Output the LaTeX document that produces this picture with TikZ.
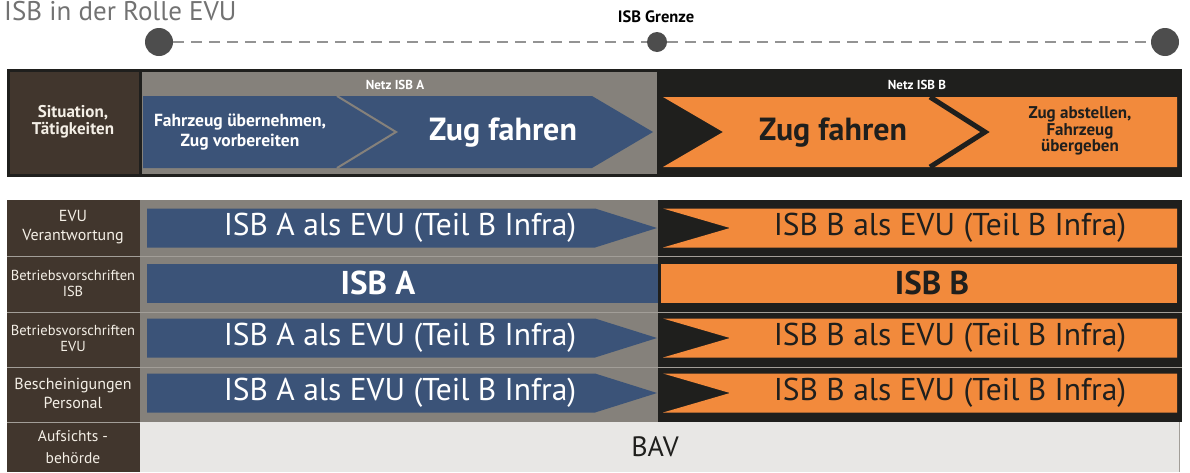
\documentclass[tikz,border=0pt]{standalone}
\usepackage{fontspec}
\setmainfont{PT Sans}
\definecolor{labelbrown}{HTML}{41362D}
\definecolor{netzgray}{HTML}{85817B}
\definecolor{isbblue}{HTML}{3B5378}
\definecolor{isborange}{HTML}{F28A3C}
\definecolor{boxblack}{HTML}{1F1F1D}
\definecolor{bavgray}{HTML}{E8E7E5}
\definecolor{dotgray}{HTML}{4D4D4D}
\definecolor{dashgray}{HTML}{939393}
\definecolor{titlegray}{HTML}{727272}
\definecolor{labeltext}{HTML}{F4EFE6}
\definecolor{sepgray}{HTML}{A29E98}
\begin{document}
\begin{tikzpicture}[x=1pt,y=1pt]
\tikzstyle{every node}+=[inner sep=0pt, align=center]
\tikzstyle{dashline}=[dashgray, line width=2.5pt, dash pattern=on 11pt off 7pt]
\tikzstyle{enddot}=[circle, fill=dotgray, minimum size=28pt]
\tikzstyle{rowlabel}=[text=labeltext, font=\fontsize{16}{19}\selectfont]
\tikzstyle{smalllabel}=[text=labeltext, font=\fontsize{14.5}{16}\selectfont]
\tikzstyle{bigtext}=[font=\fontsize{31.5}{32}\selectfont]
\useasboundingbox (0,0) rectangle (1190,-472);
\node (title) [anchor=base west, text=titlegray, font=\fontsize{27}{27}\selectfont] at (4,-20) {ISB in der Rolle EVU};
\node (startdot) [enddot] at (159,-42) {};
\node (grenzdot) [circle, fill=dotgray, minimum size=20pt] at (657,-42) {};
\node (stopdot) [enddot] at (1165,-42) {};
\draw [dashline] (startdot) -- (grenzdot);
\draw [dashline] (grenzdot) -- (stopdot);
\node (grenze) [font=\bfseries\fontsize{16.5}{17}\selectfont] at (656,-17) {ISB Grenze};
\fill [boxblack] (7,-69) rectangle (1182,-177);
\fill [labelbrown] (10,-72) rectangle (139,-174);
\fill [netzgray] (142,-72) rectangle (657,-174);
\fill [isbblue] (143,-96) -- (592,-96) -- (653,-132) -- (592,-168) -- (143,-168) -- cycle;
\draw [netzgray, line width=2pt] (337,-96) -- (396,-132) -- (337,-168);
\fill [isborange] (663,-97) -- (1177,-97) -- (1177,-167) -- (663,-167) -- (723,-132) -- cycle;
\draw [boxblack, line width=5pt] (930,-97) -- (985,-132) -- (930,-167);
\node (situation) [text=labeltext, font=\bfseries\fontsize{17}{17}\selectfont] at (73,-122) {Situation,\\Tätigkeiten};
\node (netzA) [text=white, font=\bfseries\fontsize{13}{13}\selectfont] at (395,-85) {Netz ISB A};
\node (netzB) [text=white, font=\bfseries\fontsize{13}{13}\selectfont] at (917,-85) {Netz ISB B};
\node (uebernehmen) [text=white, font=\bfseries\fontsize{17.5}{20}\selectfont] at (240,-132) {Fahrzeug übernehmen,\\Zug vorbereiten};
\node (fahrenA) [text=white, font=\bfseries\fontsize{32}{32}\selectfont] at (503,-133) {Zug fahren};
\node (fahrenB) [text=boxblack, font=\bfseries\fontsize{32}{32}\selectfont] at (833,-133) {Zug fahren};
\node (abstellen) [text=boxblack, font=\bfseries\fontsize{17}{16.5}\selectfont] at (1080,-131) {Zug abstellen,\\Fahrzeug\\übergeben};
\fill [labelbrown] (7,-200) rectangle (140,-472);
\fill [netzgray] (140,-200) rectangle (658,-422);
\fill [boxblack] (658,-200) rectangle (1182,-422);
\foreach \y in {256,312,367,422}
  \draw [sepgray, line width=1pt] (7,-\y) -- (140,-\y);
\foreach \y in {256,312,367}
  \draw [sepgray, line width=1pt] (140,-\y) -- (1182,-\y);
\foreach \c/\n in {228/1,338/3,393/4}
{
  \begin{scope}[yshift=-\c pt]
  \fill [isbblue] (147,19.5) -- (595,19.5) -- (657,0) -- (595,-19.5) -- (147,-19.5) -- cycle;
  \fill [isborange] (663,19.5) -- (1177,19.5) -- (1177,-19.5) -- (663,-19.5) -- (730,0) -- cycle;
  \node (evuA\n) [text=white, bigtext] at (400,0) {ISB A als EVU (Teil B Infra)};
  \node (evuB\n) [text=boxblack, bigtext] at (950,0) {ISB B als EVU (Teil B Infra)};
  \end{scope}
}
\fill [isbblue] (147,-263.5) rectangle (658,-302.5);
\fill [isborange] (661,-263.5) rectangle (1177,-302.5);
\node (isbA) [text=white, font=\bfseries\fontsize{33}{33}\selectfont] at (378,-283) {ISB A};
\node (isbB) [text=boxblack, font=\bfseries\fontsize{33}{33}\selectfont] at (932,-283) {ISB B};
\fill [bavgray] (140,-422) rectangle (1180,-472);
\draw [sepgray, line width=1pt] (1179.5,-422) -- (1179.5,-472);
\node (bav) [text=boxblack, font=\fontsize{28}{28}\selectfont] at (655,-447) {BAV};
\node (evulabel) [rowlabel] at (73,-227) {EVU\\Verantwortung};
\node (isblabel) [smalllabel] at (73,-283) {Betriebsvorschriften\\ISB};
\node (vorschrlabel) [smalllabel] at (73,-338) {Betriebsvorschriften\\EVU};
\node (personallabel) [rowlabel] at (73,-393) {Bescheinigungen\\Personal};
\node (aufsichtlabel) [text=labeltext, font=\fontsize{15.5}{22}\selectfont] at (73,-447) {Aufsichts -\\behörde};
\end{tikzpicture}
\end{document}
